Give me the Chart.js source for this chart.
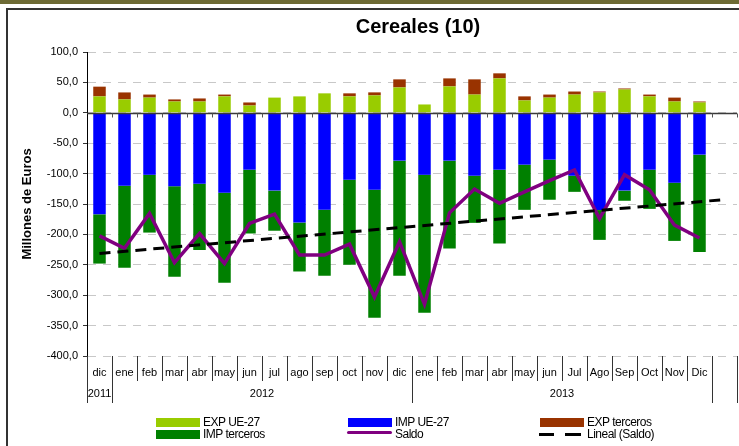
<!DOCTYPE html>
<html lang="es">
<head>
<meta charset="utf-8">
<title>Cereales (10)</title>
<script src="https://cdn.jsdelivr.net/npm/chart.js@4/dist/chart.umd.min.js"></script>
<style>
  html, body { margin: 0; padding: 0; background: #fff; }
  #wrap { position: relative; width: 739px; height: 446px; overflow: hidden; font-family: "Liberation Sans", Arial, sans-serif; }
  #chart { position: absolute; left: 0; top: 0; }
  .band { position: absolute; left: 0; top: 0; width: 739px; height: 4px; background: #6d6a35; }
  .frameTop { position: absolute; left: 6px; top: 8px; width: 733px; height: 2px; background: #333; }
  .frameLeft { position: absolute; left: 6px; top: 8px; width: 2px; height: 438px; background: #333; }
  .title { position: absolute; left: 318px; width: 200px; top: 15px; text-align: center; font-weight: bold; font-size: 20px; color: #000; }
  .sw { position: absolute; }
  .lg { position: absolute; font-size: 12px; letter-spacing: -0.5px; line-height: 12px; color: #000; white-space: nowrap; }
</style>
</head>
<body>
<div id="wrap">
  <canvas id="chart" width="739" height="446"></canvas>
  <div class="band"></div>
  <div class="frameTop"></div>
  <div class="frameLeft"></div>
  <div class="title">Cereales (10)</div>

  <!-- legend, three columns by two rows -->
  <div class="sw" style="left:156px;top:418px;width:44px;height:9px;background:#99CC00"></div>
  <div class="lg" style="left:203px;top:416px">EXP UE-27</div>
  <div class="sw" style="left:348px;top:418px;width:44px;height:9px;background:#0000FF"></div>
  <div class="lg" style="left:395px;top:416px">IMP UE-27</div>
  <div class="sw" style="left:540px;top:418px;width:44px;height:9px;background:#993300"></div>
  <div class="lg" style="left:587px;top:416px">EXP terceros</div>

  <div class="sw" style="left:156px;top:430px;width:44px;height:9px;background:#008000"></div>
  <div class="lg" style="left:203px;top:428px">IMP terceros</div>
  <div class="sw" style="left:347px;top:431px;width:45px;height:3px;background:#800080;border-radius:2px"></div>
  <div class="lg" style="left:395px;top:428px">Saldo</div>
  <div class="sw" style="left:539px;top:433px;width:15px;height:3px;background:#000"></div>
  <div class="sw" style="left:565px;top:433px;width:16px;height:3px;background:#000"></div>
  <div class="lg" style="left:587px;top:428px">Lineal (Saldo)</div>
</div>

<script>
// Month categories: dic 2011, all of 2012 and 2013, plus one empty slot
const months = ['dic',
  'ene', 'feb', 'mar', 'abr', 'may', 'jun', 'jul', 'ago', 'sep', 'oct', 'nov', 'dic',
  'ene', 'feb', 'mar', 'abr', 'may', 'jun', 'Jul', 'Ago', 'Sep', 'Oct', 'Nov', 'Dic',
  ''];

// Year groups: label, first and last month index
const years = [
  { label: '2011', from: 0, to: 0 },
  { label: '2012', from: 1, to: 12 },
  { label: '2013', from: 13, to: 24 }
];

// Millions of euros
const expUE = [27, 22, 25, 18.6, 18.6, 27, 12, 25, 27, 32, 27, 28.6, 41.7,
  13.7, 43.4, 30, 56.6, 20.3, 25, 30, 33.5, 38.4, 27, 18.6, 17, null];
const expTerceros = [16, 11.5, 5, 3.4, 5, 3, 5, 0, 0, 0, 5, 5, 13.3,
  0, 13.2, 25, 8.3, 6.7, 5, 5, 1.5, 1.6, 3, 6.4, 1.6, null];
const impUE = [-167, -120, -102, -121, -116.7, -131.5, -93.6, -128, -180.5, -159.6, -110, -126.6, -78.7,
  -102, -78.7, -103.5, -93.6, -85.3, -77, -103.5, -160, -128, -93.6, -115, -68.8, null];
const impTerceros = [-81, -134.8, -95, -148.6, -108.9, -148, -105, -66, -80.5, -108.4, -139.8, -210.4, -189.3,
  -227, -144.3, -77.5, -121.4, -74.3, -66, -26.5, -49, -16.7, -64.4, -95.7, -160.1, null];
const saldo = [-202.5, -223, -165.6, -246.5, -198.6, -248, -182, -166.7, -233.8, -234, -216, -303, -212,
  -315, -164.5, -125.5, -149, -130, -111.7, -94, -174, -101.8, -126.6, -184.8, -206, null];

// Linear trend of Saldo: only the two end values, joined straight
const trendSaldo = months.map(() => null);
trendSaldo[0] = -231.4;
trendSaldo[25] = -142.7;

const yTicks = { min: -400, max: 100, step: 50 };

// Zero axis with its ticks, and the month / year table under the plot
const categoryTable = {
  id: 'categoryTable',
  afterDatasetsDraw(chart) {
    const { ctx, chartArea } = chart;
    const x = chart.scales.x;
    const y = chart.scales.y;
    const edge = (i) => {
      if (i <= 0) return chartArea.left;
      if (i >= months.length) return chartArea.right;
      return (x.getPixelForValue(i - 1) + x.getPixelForValue(i)) / 2;
    };
    const y0 = Math.round(y.getPixelForValue(0)) + 0.5;

    ctx.save();
    ctx.strokeStyle = '#3a3a3a';
    ctx.lineWidth = 1.5;
    ctx.beginPath();
    ctx.moveTo(chartArea.left, y0);
    ctx.lineTo(chartArea.right, y0);
    ctx.stroke();

    ctx.lineWidth = 1;
    ctx.strokeStyle = '#555';
    ctx.beginPath();
    for (let i = 1; i <= months.length; i++) {
      const px = Math.round(edge(i)) + 0.5;
      ctx.moveTo(px, y0);
      ctx.lineTo(px, y0 + 4);
    }
    ctx.stroke();

    // separators: short for months, long at year boundaries
    const yearEdges = [0, 1, 13, 25, 26];
    const top = chartArea.bottom;
    ctx.strokeStyle = '#333';
    ctx.beginPath();
    for (let i = 0; i <= months.length; i++) {
      const px = Math.round(edge(i)) + 0.5;
      const len = yearEdges.includes(i) ? 47 : 25;
      ctx.moveTo(px, top);
      ctx.lineTo(px, top + len);
    }
    ctx.stroke();

    ctx.fillStyle = '#000';
    ctx.font = '11px "Liberation Sans", Arial, sans-serif';
    ctx.textAlign = 'center';
    ctx.textBaseline = 'middle';
    years.forEach((yr) => {
      const cx = (edge(yr.from) + edge(yr.to + 1)) / 2;
      ctx.fillText(yr.label, cx, top + 38);
    });
    ctx.restore();
  }
};

new Chart(document.getElementById('chart'), {
  type: 'bar',
  data: {
    labels: months,
    datasets: [
      { label: 'Saldo', type: 'line', data: saldo, stack: 'saldo',
        borderColor: '#800080', borderWidth: 3.5, pointRadius: 0, tension: 0, order: 1 },
      { label: 'Lineal (Saldo)', type: 'line', data: trendSaldo, stack: 'trend', spanGaps: true,
        borderColor: '#000', borderWidth: 3, borderDash: [11, 7], pointRadius: 0, order: 0 },
      { label: 'EXP UE-27', data: expUE, backgroundColor: '#99CC00', order: 2 },
      { label: 'EXP terceros', data: expTerceros, backgroundColor: '#993300', order: 2 },
      { label: 'IMP UE-27', data: impUE, backgroundColor: '#0000FF', order: 2 },
      { label: 'IMP terceros', data: impTerceros, backgroundColor: '#008000', order: 2 }
    ]
  },
  options: {
    responsive: false,
    animation: false,
    devicePixelRatio: 1,
    layout: { padding: { left: 0, right: 2, top: 52, bottom: 0 } },
    datasets: {
      bar: { barPercentage: 0.5, categoryPercentage: 1 }
    },
    plugins: {
      legend: { display: false },
      title: { display: false },
      tooltip: { enabled: false }
    },
    scales: {
      x: {
        stacked: true,
        grid: { display: false, drawTicks: false },
        border: { display: false },
        ticks: {
          autoSkip: false, maxRotation: 0, padding: 10, color: '#000',
          font: { family: '"Liberation Sans", Arial, sans-serif', size: 11 }
        },
        afterFit(scale) { scale.height = 90; }
      },
      y: {
        stacked: true,
        min: yTicks.min,
        max: yTicks.max,
        grid: { color: '#c8c8c8', lineWidth: 1, drawTicks: true, tickLength: 4, tickColor: '#333' },
        border: { display: true, color: '#000', width: 1, dash: [8, 7] },
        ticks: {
          stepSize: yTicks.step, padding: 5, color: '#000',
          font: { family: '"Liberation Sans", Arial, sans-serif', size: 11 },
          callback: (v) => v.toFixed(1).replace('.', ',')
        },
        title: {
          display: true, text: 'Millones de Euros', color: '#000',
          font: { family: '"Liberation Sans", Arial, sans-serif', size: 13, weight: 'bold' },
          padding: { top: 20, bottom: 0 }
        },
        afterFit(scale) { scale.width = 87; }
      }
    }
  },
  plugins: [categoryTable]
});
</script>
</body>
</html>
